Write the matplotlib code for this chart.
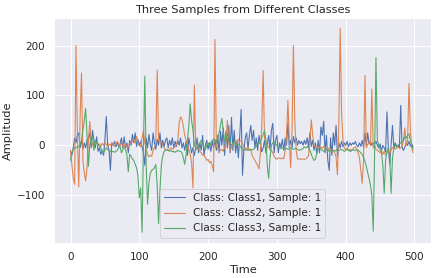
import numpy as np
import matplotlib
matplotlib.use("Agg")
import matplotlib.pyplot as plt
import seaborn as sns

sns.set_theme(style="darkgrid", context="notebook")
plt.rcParams['font.family'] = ['DejaVu Sans']

time = list(range(0, 500, 2))

class1 = [
    -10, -20, -5, 15, 5, 20, 25, -5, 10, -8,
    5, -5, 10, 15, 25, -5, 30, 10, -5, 17,
    -12, -5, -18, -10, -20, 10, 58, 0, -10, -50,
    5, 0, 8, -3, 5, -2, 2, 15, -5, 17,
    -5, 5, -15, 10, 0, 22, 5, 25, -2, 12,
    0, 8, -3, -15, -40, 15, -5, 22, 2, -10,
    25, 5, -8, 12, 0, 25, -5, 10, -3, 10,
    15, -5, 10, 0, 15, -5, 8, -2, 10, 0,
    15, -5, 5, -10, 8, -20, 15, 0, -15, -5,
    -20, -5, 15, -15, 5, -10, 20, -20, 0, 10,
    -8, 5, -12, 8, -5, 12, -10, 20, -15, 28,
    0, 35, -20, 28, -5, 40, -15, 56, -10, 30,
    -15, 10, -25, 20, 72, -60, -10, 15, 25, -8,
    20, 40, 10, 30, -5, 15, -10, 20, 5, -13,
    -5, 10, -15, 0, 20, -8, 30, 44, -15, 10,
    20, -15, 5, -5, 12, -10, 15, 0, 45, -5,
    10, -5, 18, 5, 15, 0, 10, 3, 8, 0,
    10, 2, 15, -3, 25, -2, 10, -10, 5, -17,
    10, -15, 37, 20, 48, -15, 20, -30, -50, 15,
    -20, 25, 0, 40, -22, 5, -5, 8, -3, 5,
    0, 8, -3, 5, 0, 5, 2, 8, 0, -3,
    5, -2, 10, -5, 25, 0, 25, 3, 8, 0,
    5, 3, 8, 0, -5, 3, -10, 0, -5, -13,
    67, -5, -38, 0, 40, -5, 5, -3, 0, -5,
    80, -5, -10, -3, 5, 0, 8, -2, 3, -3,
]

class2 = [
    -10, -40, -65, -78, 200, 20, -83, 60, 145, -30,
    -55, -71, -45, 5, 48, 10, 0, 5, 2, 6,
    0, 3, -2, 4, 0, 6, 2, -3, 3, 0,
    5, 2, -2, 4, 8, 3, -2, 5, 0, -3,
    2, -2, -5, 3, 6, 8, 12, 5, 18, 3,
    0, -3, 15, 28, 5, -8, -18, -23, -20, -22,
    -10, -5, 5, 151, 10, 5, 8, 0, -5, -10,
    -8, -10, -8, -5, -8, -5, -3, 2, 12, 45,
    57, 52, 38, 20, 10, 0, -8, -18, -35, -85,
    121, -2, -5, -8, -12, -15, -20, -18, -25, -30,
    -28, -35, -32, -40, -53, 212, 0, -8, -5, -10,
    -8, -12, -5, 10, 50, 5, -10, -5, 3, 5,
    8, 5, 12, 8, 10, 3, -3, -5, -8, -3,
    -10, -8, -20, -25, -30, -35, -40, -47, -15, 40,
    150, 15, 6, 0, -3, -8, -10, -15, -22, -26,
    -28, -25, -26, -27, -25, -27, -10, 20, 90, 10,
    -45, 30, 200, 50, -10, -27, -28, -27, -28, -27,
    -28, -27, -25, -20, 10, 51, 20, 0, -3, -5,
    -2, -5, -3, -6, -2, -5, -8, -5, -10, -8,
    -12, -10, -15, -23, -59, 40, 234, 63, 10, -5,
    -8, -5, -10, -8, -12, -8, -5, -3, -8, -15,
    -25, -50, -76, -30, 140, -5, 2, 5, 0, 113,
    -5, 0, -8, -10, -12, -15, -10, -18, -12, -20,
    -15, -10, -18, -8, -5, -3, -8, -5, -3, -6,
    -5, -2, 10, 35, 0, 10, 124, 30, -5, -15,
]

class3 = [
    -30, -15, -8, -5, -5, -3, -2, 0, 10, 30,
    50, 74, 20, -42, 0, 15, 18, -10, 10, 5,
    3, -2, -5, -12, -15, -10, -5, -8, -10, -12,
    -13, -12, -14, -12, -10, -5, -2, -15, -8, -5,
    -8, -20, -53, -18, -22, -27, -30, -38, -45, -60,
    -105, -85, -174, 0, 139, -40, -118, -75, -56, -50,
    -48, -45, -38, -80, -157, -90, -40, -22, -12, -10,
    -8, -10, -12, -10, -13, -12, -14, -12, -10, -12,
    -12, -15, -25, -38, -20, 10, 40, 83, 50, 30,
    0, -5, -8, 0, 5, 10, 5, -5, -8, 0,
    5, -3, 5, 10, 12, 8, 5, 15, 25, 40,
    54, 30, 8, 15, 25, 10, 5, 0, 5, 8,
    3, 0, 2, 0, -5, -8, -10, -8, -10, -9,
    -10, -8, -9, -8, -5, -2, 5, 3, 8, 15,
    22, 30, 10, -40, -66, -25, 0, 5, 7, 3,
    0, -3, -5, -6, -5, -7, -8, -6, -8, -7,
    -5, -6, -8, -7, -6, -8, -10, -9, -8, -6,
    -3, -5, -2, -6, -10, -18, -25, -30, -28, -15,
    -8, -5, -8, -10, -12, -10, -8, -10, -12, -10,
    -8, -10, -12, -10, -8, -10, -9, -8, -10, -12,
    -10, -8, -10, -12, -10, -8, -10, -10, -8, -10,
    -12, -15, -18, -25, -32, -42, -55, -66, -80, -100,
    -172, -20, 176, 10, 0, -8, -15, -40, -96, -30,
    -10, -5, -20, -96, -25, -5, 0, -3, 0, 3,
    5, 8, 10, 17, 15, 20, 23, 10, 0, -8,
]

series = [("Class1", class1), ("Class2", class2), ("Class3", class3)]
sample_id = 1
colors = sns.color_palette("deep")

fig = plt.figure(figsize=(436 / 68, 278 / 68), dpi=68)
ax = fig.add_axes([54 / 436, 1 - 242.7 / 278, (431 - 54) / 436, (242.7 - 18.3) / 278])

for i, (name, vals) in enumerate(series):
    ax.plot(time, vals, color=colors[i], linewidth=1.15,
            label=f"Class: {name}, Sample: {sample_id}")

ax.set_xlim(-24, 524)
ax.set_ylim(-195, 254.5)
ax.set_yticks([-100, 0, 100, 200])
ax.set_xticks([0, 100, 200, 300, 400, 500])
ax.set_title("Three Samples from Different Classes")
ax.set_xlabel("Time")
ax.set_ylabel("Amplitude")
ax.legend(loc="lower center")

fig.savefig("out.png", dpi=68)
